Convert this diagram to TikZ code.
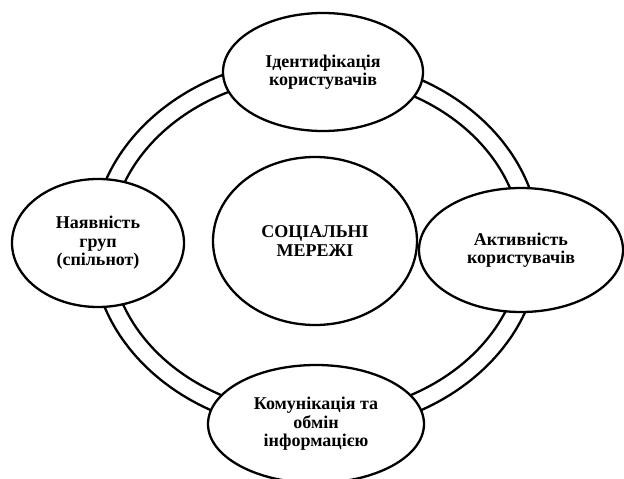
\documentclass[tikz,border=0pt]{standalone}
\usepackage{fontspec}
\setmainfont{Liberation Serif}
\usetikzlibrary{shapes.geometric}
\begin{document}
\begin{tikzpicture}[x=1pt,y=-1pt,
  ring/.style={line width=2.3pt},
  bub/.style={ellipse, draw, fill=white, line width=2.3pt, inner sep=0pt, align=center,
    font=\bfseries\fontsize{18}{18.5}\selectfont},
]
\useasboundingbox (0,0) rectangle (624,479);
% double ring
\draw[ring] (316,245) ellipse [x radius=224, y radius=187];
\draw[ring] (316,245) ellipse [x radius=206, y radius=169];
% nodes
\node[bub, minimum width=200pt, minimum height=118pt] (top) at (323,72) {Ідентифікація\\користувачів};
\node[bub, minimum width=172pt, minimum height=128pt] (left) at (98,243) {Наявність\\груп\\(спільнот)};
\node[bub, minimum width=204pt, minimum height=124pt] (right) at (521,250) {Активність\\користувачів};
\node[bub, minimum width=216pt, minimum height=118pt] (bottom) at (316,424) {Комунікація та\\обмін\\інформацією};
\node[bub, minimum width=204pt, minimum height=168pt] (center) at (315,241) {СОЦІАЛЬНІ\\МЕРЕЖІ};
\end{tikzpicture}
\end{document}
